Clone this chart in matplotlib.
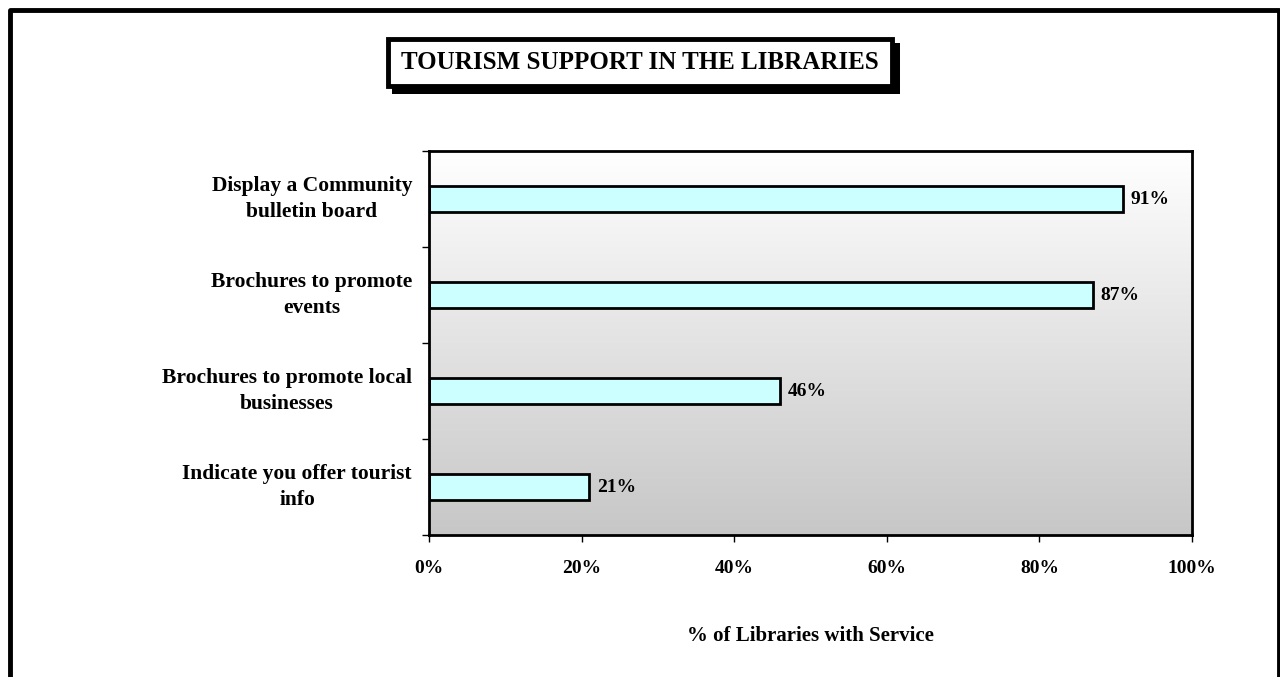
import numpy as np
import matplotlib.pyplot as plt
import matplotlib.patches as mpatches
import matplotlib.ticker as ticker
from matplotlib.transforms import offset_copy

# Survey results, top to bottom
services = ['Display a Community\nbulletin board',
            'Brochures to promote\nevents',
            'Brochures to promote local\nbusinesses',
            'Indicate you offer tourist\ninfo']
percent = [91, 87, 46, 21]
xtick_values = [0, 20, 40, 60, 80, 100]

W, H = 1280, 677
plt.rcParams['font.family'] = ['Liberation Serif', 'DejaVu Serif']
plt.rcParams['font.weight'] = 'bold'

fig = plt.figure(figsize=(W / 100, H / 100), dpi=100)
fig.patch.set_facecolor('white')

# outer frame (left, top and right edges)
fig.add_artist(plt.Line2D([9.5 / W, 9.5 / W, 1278.5 / W, 1278.5 / W],
                          [0, 1 - 9.5 / H, 1 - 9.5 / H, 0],
                          color='black', lw=3.5, transform=fig.transFigure))

ax = fig.add_axes([429 / W, 1 - 535 / H, (1192 - 429) / W, (535 - 151) / H])

n = len(services)
ypos = np.arange(n)[::-1]

# vertical gradient background
grad = np.linspace(0, 1, 256).reshape(-1, 1)
top = np.array([1.0, 1.0, 1.0])
bottom = np.array([0.78, 0.78, 0.78])
img = top + (bottom - top) * grad[..., None]
ax.imshow(img, aspect='auto', extent=[0, 100, -0.5, n - 0.5],
          origin='upper', zorder=0)

ax.barh(ypos, percent, height=0.28, color='#ccffff', edgecolor='black',
        linewidth=2, zorder=2)
for y, v in zip(ypos, percent):
    ax.text(v + 1.0, y, '%d%%' % v, va='center', ha='left',
            fontsize=14, fontweight='bold', zorder=3)

ax.set_xlim(0, 100)
ax.set_ylim(-0.5, n - 0.5)
ax.set_xticks(xtick_values)
ax.xaxis.set_major_formatter(ticker.FuncFormatter(lambda x, pos: '%d%%' % x))
ax.set_yticks(np.arange(-0.5, n, 1.0))
ax.set_yticklabels([])
ax.tick_params(axis='both', direction='out', length=5, width=1,
               labelsize=14)
ax.tick_params(axis='x', pad=13)
for s in ax.spines.values():
    s.set_linewidth(2)

# category labels, block right-aligned, lines centred
lab_trans = offset_copy(ax.get_yaxis_transform(), fig=fig, x=-17, y=0,
                        units='dots')
for y, lab in zip(ypos, services):
    ax.text(0, y, lab, transform=lab_trans, ha='right', va='center',
            multialignment='center', fontsize=15.5, fontweight='bold',
            linespacing=1.35)

fig.text(0.5 * (429 + 1192) / W, 1 - 636 / H, '% of Libraries with Service',
         ha='center', va='center', fontsize=15, fontweight='bold')

# title box with drop shadow
bx, by, bw, bh = 386, 37, 508, 51
shadow = mpatches.Rectangle(((bx + 6) / W, 1 - (by + bh + 6) / H),
                            bw / W, bh / H, transform=fig.transFigure,
                            facecolor='black', edgecolor='black', lw=0)
box = mpatches.Rectangle(((bx + 2) / W, 1 - (by + bh - 2) / H),
                         (bw - 4) / W, (bh - 4) / H,
                         transform=fig.transFigure, facecolor='white',
                         edgecolor='black', lw=3.5)
fig.add_artist(shadow)
fig.add_artist(box)
fig.text((bx + bw / 2) / W, 1 - (by + bh / 2) / H,
         'TOURISM SUPPORT IN THE LIBRARIES', ha='center', va='center',
         fontsize=18, fontweight='bold')

plt.savefig('out.png', dpi=100)
